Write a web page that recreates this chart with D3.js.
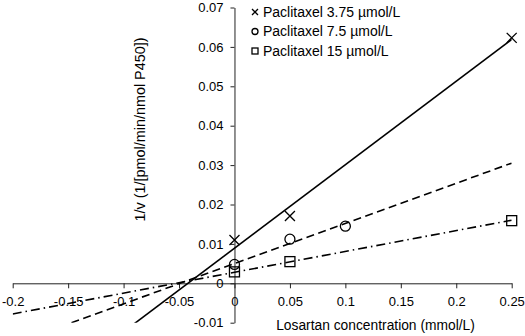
<!DOCTYPE html>
<html><head><meta charset="utf-8">
<script src="https://cdn.jsdelivr.net/npm/d3@7"></script>
<style>
html,body{margin:0;padding:0;background:#fff;}
text{font-family:"Liberation Sans",Arial,sans-serif;fill:#000;}
</style></head>
<body>
<svg id="chart" width="525" height="336"></svg>
<script>
// ---- data ----
const seriesNames = ["Paclitaxel 3.75 µmol/L", "Paclitaxel 7.5 µmol/L", "Paclitaxel 15 µmol/L"];
const markers = ["cross", "circle", "square"];
const xS1 = [0, 0.05, 0.25];
const yS1 = [0.011, 0.0171, 0.0623];
const xS2 = [0, 0.05, 0.1];
const yS2 = [0.0048, 0.0112, 0.0145];
const xS3 = [0, 0.05, 0.25];
const yS3 = [0.0029, 0.0055, 0.0159];
// trendline parameters (slope, intercept)
const trendSlope = [0.212, 0.102, 0.0529];
const trendIntercept = [0.0089, 0.0050, 0.0028];
const xTicks = [-0.2, -0.15, -0.1, -0.05, 0, 0.05, 0.1, 0.15, 0.2, 0.25];
const yTicks = [-0.01, 0, 0.01, 0.02, 0.03, 0.04, 0.05, 0.06, 0.07];
const xTitle = "Losartan concentration (mmol/L)";
const yTitle = "1/v (1/[pmol/min/nmol P450])";

const seriesX = [xS1, xS2, xS3];
const seriesY = [yS1, yS2, yS3];
const dashes = [null, "8,4.5", "9,4,1.5,4"];

const svg = d3.select("#chart");
const x = d3.scaleLinear().domain([-0.2, 0.25]).range([12.7, 511.7]);
const y = d3.scaleLinear().domain([-0.01, 0.07]).range([322.7, 7.5]);

svg.append("defs").append("clipPath").attr("id", "plotclip")
  .append("rect").attr("x", x(-0.2)).attr("y", y(0.07))
  .attr("width", x(0.25) - x(-0.2)).attr("height", y(-0.01) - y(0.07));

const fmt = d => d === 0 ? "0" : String(d);

// x axis at y=0
const gx = svg.append("g").attr("transform", `translate(0,${y(0)})`)
  .call(d3.axisBottom(x).tickValues(xTicks).tickSize(5).tickSizeOuter(0).tickFormat(fmt));
gx.select(".domain").attr("stroke", "#222");
gx.selectAll(".tick line").attr("stroke", "#222");
gx.selectAll(".tick text").attr("font-size", 13).attr("dy", "0.32em").attr("y", 19)
  .attr("font-family", "Liberation Sans, Arial, sans-serif").attr("fill", "#000");

// y axis at x=0
const gy = svg.append("g").attr("transform", `translate(${x(0)},0)`)
  .call(d3.axisLeft(y).tickValues(yTicks).tickSize(4).tickSizeOuter(0).tickFormat(fmt));
gy.select(".domain").attr("stroke", "#222");
gy.selectAll(".tick line").attr("stroke", "#222");
gy.selectAll(".tick text").attr("font-size", 13).attr("x", -11)
  .attr("font-family", "Liberation Sans, Arial, sans-serif").attr("fill", "#000");

// trendlines
const plot = svg.append("g").attr("clip-path", "url(#plotclip)");
trendSlope.forEach((m, i) => {
  const b = trendIntercept[i];
  const xs = x.domain();
  plot.append("line")
    .attr("x1", x(xs[0])).attr("y1", y(m * xs[0] + b))
    .attr("x2", x(xs[1])).attr("y2", y(m * xs[1] + b))
    .attr("stroke", "#000").attr("stroke-width", 1.6)
    .attr("stroke-dasharray", dashes[i]);
});

function drawMarker(g, type, cx, cy, s) {
  if (type === "cross") {
    g.append("path").attr("d", `M${cx - s},${cy - s}L${cx + s},${cy + s}M${cx - s},${cy + s}L${cx + s},${cy - s}`)
      .attr("stroke", "#000").attr("stroke-width", 1.3).attr("fill", "none");
  } else if (type === "circle") {
    g.append("circle").attr("cx", cx).attr("cy", cy).attr("r", s)
      .attr("stroke", "#000").attr("stroke-width", 1.3).attr("fill", "none");
  } else {
    g.append("rect").attr("x", cx - s).attr("y", cy - s).attr("width", 2 * s).attr("height", 2 * s)
      .attr("stroke", "#000").attr("stroke-width", 1.3).attr("fill", "none");
  }
}

const mg = svg.append("g");
seriesX.forEach((xs, i) => {
  xs.forEach((xv, j) => {
    drawMarker(mg, markers[i], x(xv), y(seriesY[i][j]), 5);
  });
});

// legend
const lg = svg.append("g");
seriesNames.forEach((name, i) => {
  const ly = 12 + i * 19.5;
  drawMarker(lg, markers[i], 255, ly, 3);
  lg.append("text").attr("x", 263).attr("y", ly).attr("dy", "0.35em")
    .attr("font-size", 14).text(name);
});

// axis titles
svg.append("text").attr("x", 375.5).attr("y", 325).attr("dy", "0.35em")
  .attr("text-anchor", "middle").attr("font-size", 13.8).text(xTitle);
svg.append("text").attr("transform", "translate(140,129.5) rotate(-90)")
  .attr("dy", "0.35em").attr("text-anchor", "middle").attr("font-size", 14.4).text(yTitle);
</script>
</body></html>
